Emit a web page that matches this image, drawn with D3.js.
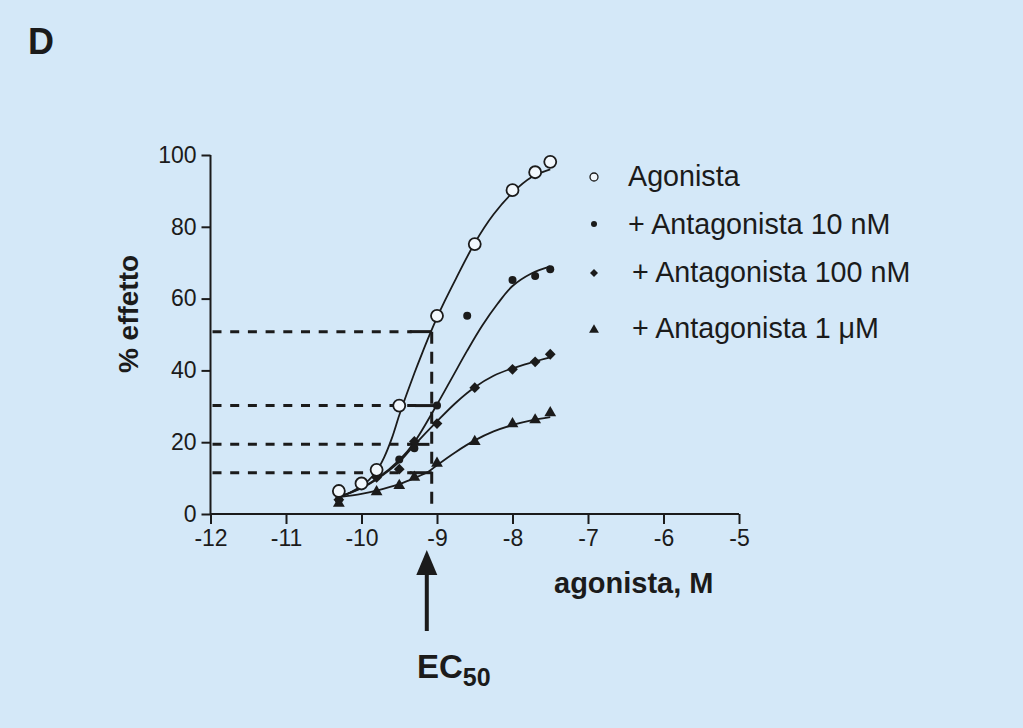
<!DOCTYPE html>
<html><head><meta charset="utf-8">
<script src="https://cdn.jsdelivr.net/npm/d3@7"></script>
<style>
html,body{margin:0;padding:0;background:#d4e8f8;}
svg{display:block;font-family:"Liberation Sans",Arial,Helvetica,sans-serif;}
</style></head><body>
<svg id="chart" width="1023" height="728"></svg>
<script>
// ---- data ----
const xTicks = [-12, -11, -10, -9, -8, -7, -6, -5];
const yTicks = [0, 20, 40, 60, 80, 100];

const logAgonista = [-10.3, -10.0, -9.8, -9.5, -9.0, -8.5, -8.0, -7.7, -7.5];
const effAgonista = [6.4, 8.5, 12.3, 30.2, 55.2, 75.2, 90.2, 95.2, 98.1];
const logAnt10 = [-10.3, -9.8, -9.5, -9.3, -9.0, -8.6, -8.0, -7.7, -7.5];
const effAnt10 = [4.0, 10.5, 15.2, 18.3, 30.2, 55.2, 65.2, 66.3, 68.2];
const logAnt100 = [-10.3, -9.8, -9.5, -9.3, -9.0, -8.5, -8.0, -7.7, -7.5];
const effAnt100 = [4.0, 10.2, 12.5, 20.2, 25.2, 35.2, 40.3, 42.4, 44.5];
const logAnt1 = [-10.3, -9.8, -9.5, -9.3, -9.0, -8.5, -8.0, -7.7, -7.5];
const effAnt1 = [3.0, 6.2, 7.9, 10.2, 14.1, 20.2, 25.1, 26.2, 28.2];

// fitted curves
const fitAgonista = [[-10.3,4.7],[-10.15,6.0],[-10.0,7.8],[-9.9,9.5],[-9.8,12.0],[-9.7,15.8],[-9.6,21],[-9.5,27.5],[-9.4,33.5],[-9.3,39.2],[-9.2,44.6],[-9.1,49.8],[-9.0,54.7],[-8.9,59.2],[-8.75,65.5],[-8.5,75.5],[-8.25,83.5],[-8.0,89.5],[-7.75,93.8],[-7.5,96]];
const fitAnt10 = [[-10.3,4.7],[-10.0,7.3],[-9.8,9.8],[-9.5,15],[-9.3,20],[-9.0,30.5],[-8.8,38],[-8.6,45.5],[-8.4,52.5],[-8.2,58.5],[-8.0,63.5],[-7.75,67],[-7.5,69]];
const fitAnt100 = [[-10.3,4.7],[-10.0,7.2],[-9.8,9.6],[-9.5,14.5],[-9.3,19.2],[-9.0,25.8],[-8.75,31],[-8.5,35.3],[-8.25,38.5],[-8.0,40.6],[-7.75,42.2],[-7.5,43.6]];
const fitAnt1 = [[-10.3,4.7],[-10.0,5.6],[-9.8,6.5],[-9.5,8.3],[-9.3,10],[-9.1,12],[-9.0,13.6],[-8.75,17.3],[-8.5,20.5],[-8.25,23],[-8.0,24.8],[-7.75,26.1],[-7.5,27]];

// EC50 guide levels
const guideLevels = [50.8, 30.2, 19.4, 11.5];
const guideEnds = [-9.07, -9.0, -9.1, -9.07];
const ec50Log = -9.07;
const ec50Level = 50.8;

const legendLabels = ["Agonista", "+ Antagonista 10 nM", "+ Antagonista 100 nM", "+ Antagonista 1 \u03bcM"];
const panelLabel = "D";
const yTitle = "% effetto";
const xTitle = "agonista, M";

// ---- drawing ----
const svg = d3.select("#chart");
const ink = "#1b1b1b";
const bg = "#d4e8f8";
svg.append("rect").attr("width",1023).attr("height",728).attr("fill",bg);

const x = d3.scaleLinear().domain([-12, -5]).range([210.5, 739]);
const y = d3.scaleLinear().domain([0, 100]).range([514, 155]);

svg.append("text").text(panelLabel).attr("x",28).attr("y",54)
  .attr("font-size",36).attr("font-weight","bold").attr("fill",ink);

// axes
const yAxis = svg.append("g").attr("transform",`translate(${x(-12)},0)`)
  .call(d3.axisLeft(y).tickValues(yTicks).tickSize(9).tickPadding(5).tickFormat(d3.format("d")));
const xAxis = svg.append("g").attr("transform",`translate(0,${y(0)})`)
  .call(d3.axisBottom(x).tickValues(xTicks).tickSize(10).tickPadding(6).tickFormat(d => d3.format("d")(d).replace("\u2212","-")));
[yAxis, xAxis].forEach(g => {
  g.select(".domain").attr("stroke",ink).attr("stroke-width",2);
  g.selectAll(".tick line").attr("stroke",ink).attr("stroke-width",2);
  g.selectAll(".tick text").attr("fill",ink).attr("font-size",23)
    .attr("font-family","'Liberation Sans',Arial,sans-serif");
});
yAxis.select(".domain").attr("d",`M0,${y(0)}V${y(100)}`);
xAxis.select(".domain").attr("d",`M${x(-12)},0H${x(-5)}`);
xAxis.selectAll(".tick text").attr("dy","0.68em");

// axis titles
svg.append("text").text(yTitle)
  .attr("transform",`translate(138,314) rotate(-90)`)
  .attr("text-anchor","middle").attr("font-size",28).attr("font-weight","bold").attr("fill",ink);
svg.append("text").text(xTitle).attr("x",554).attr("y",593)
  .attr("font-size",29).attr("font-weight","bold").attr("fill",ink);

// dashed guides
const gGuide = svg.append("g");
guideLevels.forEach((lv, i) => {
  const x0 = x(-12), x1 = x(guideEnds[i]), yy = y(lv);
  gGuide.append("line").attr("x1",x0+2).attr("x2",x1-20).attr("y1",yy).attr("y2",yy)
    .attr("stroke",ink).attr("stroke-width",3).attr("stroke-dasharray","9,8.7");
  gGuide.append("line").attr("x1",x1-22).attr("x2",x1).attr("y1",yy).attr("y2",yy)
    .attr("stroke",ink).attr("stroke-width",3);
});
gGuide.append("line").attr("x1",x(ec50Log)).attr("x2",x(ec50Log))
  .attr("y1",y(ec50Level)).attr("y2",y(0)-4)
  .attr("stroke",ink).attr("stroke-width",3).attr("stroke-dasharray","12,8");

// fitted curves
const line = d3.line().x(d => x(d[0])).y(d => y(d[1])).curve(d3.curveCatmullRom.alpha(0.5));
[fitAgonista, fitAnt10, fitAnt100, fitAnt1].forEach(c => {
  svg.append("path").attr("d", line(c)).attr("fill","none").attr("stroke",ink).attr("stroke-width",1.8);
});

// markers
const sym = {
  circle: d3.symbol().type(d3.symbolCircle).size(Math.PI*36),
  dot: d3.symbol().type(d3.symbolCircle).size(Math.PI*4*4),
  diamond: d3.symbol().type(d3.symbolSquare).size(58),
  tri: d3.symbol().type(d3.symbolTriangle).size(60)
};
function drawSeries(xs, ys, kind) {
  const g = svg.append("g");
  xs.forEach((lx, i) => {
    const p = g.append("path").attr("d", sym[kind]())
      .attr("transform", `translate(${x(lx)},${y(ys[i])})` + (kind==="diamond" ? " rotate(45)" : ""));
    if (kind === "circle") p.attr("fill","#f2f8fd").attr("stroke",ink).attr("stroke-width",1.8);
    else p.attr("fill",ink);
  });
}
drawSeries(logAnt1, effAnt1, "tri");
drawSeries(logAnt100, effAnt100, "diamond");
drawSeries(logAnt10, effAnt10, "dot");
drawSeries(logAgonista, effAgonista, "circle");

// legend
const legY = [177, 224, 273, 330];
const legTextY = [186, 234, 282, 338];
const legTextX = [628, 628, 632, 632];
const legSym = [
  d3.symbol().type(d3.symbolCircle).size(Math.PI*16),
  d3.symbol().type(d3.symbolCircle).size(Math.PI*9),
  d3.symbol().type(d3.symbolSquare).size(32),
  d3.symbol().type(d3.symbolTriangle).size(42)
];
legendLabels.forEach((lab, i) => {
  const p = svg.append("path").attr("d", legSym[i]())
    .attr("transform", `translate(594,${legY[i]})` + (i===2 ? " rotate(45)" : ""));
  if (i === 0) p.attr("fill","#f2f8fd").attr("stroke",ink).attr("stroke-width",1.3);
  else p.attr("fill",ink);
  svg.append("text").text(lab).attr("x",legTextX[i]).attr("y",legTextY[i])
    .attr("font-size",28.7).attr("fill",ink);
});

// EC50 arrow
const ax = 426.8;
svg.append("line").attr("x1",ax).attr("x2",ax).attr("y1",570).attr("y2",631)
  .attr("stroke",ink).attr("stroke-width",4);
svg.append("path").attr("d",`M${ax},550L${ax+10.5},575L${ax-10.5},575Z`).attr("fill",ink);
const ec = svg.append("text").attr("x",417).attr("y",678).attr("font-weight","bold").attr("fill",ink);
ec.append("tspan").text("EC").attr("font-size",33);
ec.append("tspan").text("50").attr("font-size",25).attr("dy",8);
</script>
</body></html>
